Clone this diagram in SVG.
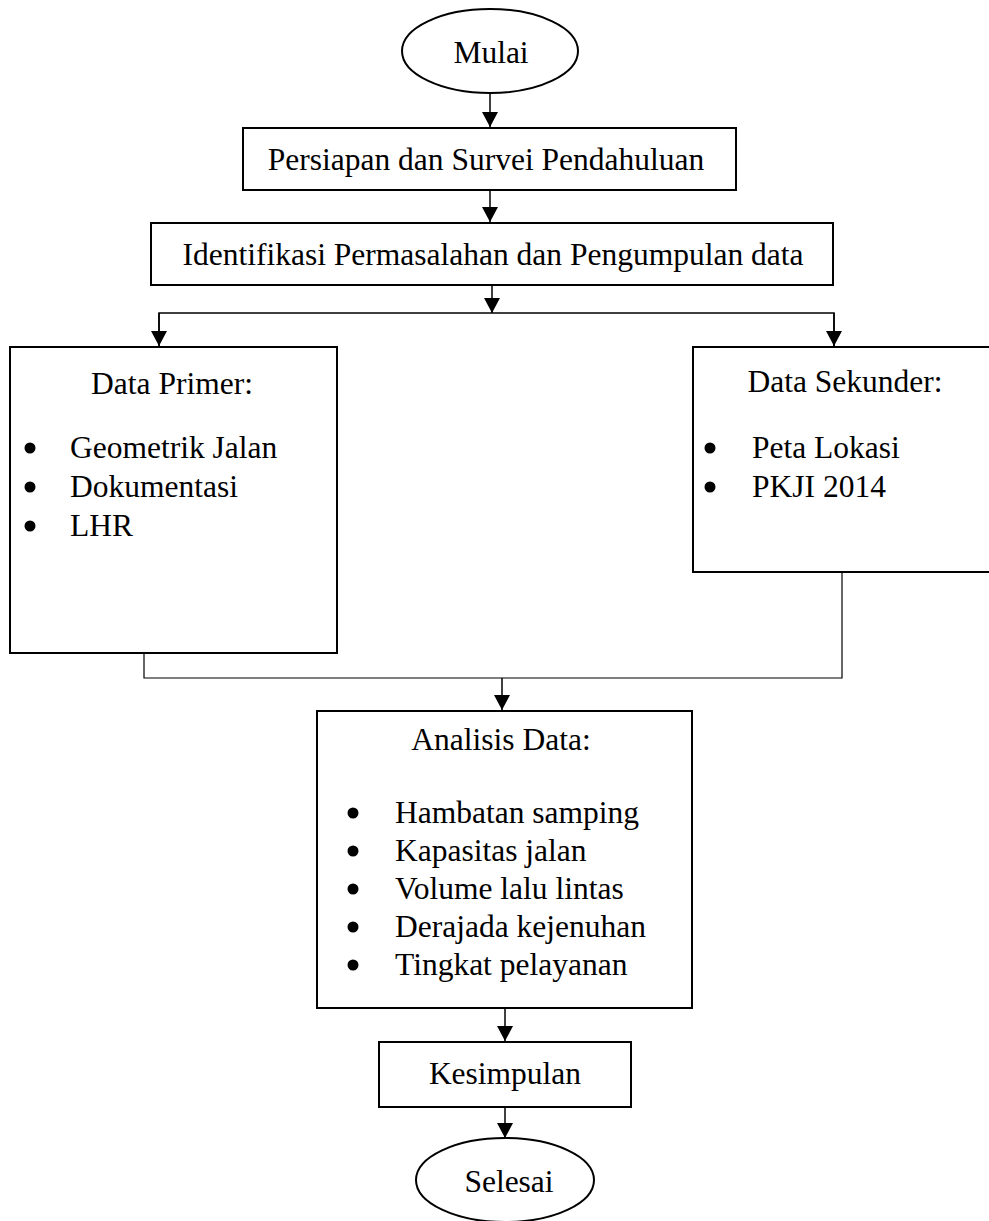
<svg xmlns="http://www.w3.org/2000/svg" width="989" height="1221" viewBox="0 0 989 1221">
<style>
  .box{fill:#fff;stroke:#000;stroke-width:2}
  .t{font-family:"Liberation Serif","Times New Roman",serif;font-size:31.5px;fill:#000}
  .c{text-anchor:middle}
  .dot{fill:#000;stroke:none}
  .ln{fill:none;stroke:#000;stroke-width:1.5}
  .thin{fill:none;stroke:#000;stroke-width:1.2}
</style>
<defs>
  <marker id="arr" markerUnits="userSpaceOnUse" markerWidth="16" markerHeight="16" refX="15" refY="8" orient="auto">
    <path d="M0,0 L15,8 L0,16 z" fill="#000"/>
  </marker>
</defs>
<rect width="989" height="1221" fill="#fff"/>

<g id="connectors">
  <line class="ln" x1="490" y1="93" x2="490" y2="127" marker-end="url(#arr)"/>
  <line class="ln" x1="490" y1="190" x2="490" y2="222" marker-end="url(#arr)"/>
  <line class="ln" x1="492" y1="285" x2="492" y2="313" marker-end="url(#arr)"/>
  <polyline class="ln" points="159,346 159,313 834,313 834,346"/>
  <line class="ln" x1="159" y1="313" x2="159" y2="346" marker-end="url(#arr)"/>
  <line class="ln" x1="834" y1="313" x2="834" y2="346" marker-end="url(#arr)"/>
  <polyline class="thin" points="144,653 144,678 842,678 842,572"/>
  <line class="ln" x1="502" y1="678" x2="502" y2="710" marker-end="url(#arr)"/>
  <line class="ln" x1="505" y1="1008" x2="505" y2="1041" marker-end="url(#arr)"/>
  <line class="ln" x1="505" y1="1107" x2="505" y2="1138" marker-end="url(#arr)"/>
</g>

<g id="mulai">
  <ellipse class="box" cx="490" cy="51" rx="88" ry="42" stroke-width="1.5"/>
  <text class="t c" x="491" y="63">Mulai</text>
</g>

<g id="persiapan">
  <rect class="box" x="243" y="128" width="493" height="62"/>
  <text class="t c" x="486" y="170">Persiapan dan Survei Pendahuluan</text>
</g>

<g id="identifikasi">
  <rect class="box" x="151" y="223" width="682" height="62"/>
  <text class="t c" x="493" y="265">Identifikasi Permasalahan dan Pengumpulan data</text>
</g>

<g id="data-primer">
  <rect class="box" x="10" y="347" width="327" height="306"/>
  <text class="t c" x="172" y="394">Data Primer:</text>
  <circle class="dot" cx="30" cy="448" r="5.5"/>
  <text class="t" x="70" y="458">Geometrik Jalan</text>
  <circle class="dot" cx="30" cy="487" r="5.5"/>
  <text class="t" x="70" y="497">Dokumentasi</text>
  <circle class="dot" cx="30" cy="526" r="5.5"/>
  <text class="t" x="70" y="536">LHR</text>
</g>

<g id="data-sekunder">
  <rect class="box" x="693" y="347" width="310" height="225"/>
  <text class="t c" x="845" y="392">Data Sekunder:</text>
  <circle class="dot" cx="710" cy="448" r="5.5"/>
  <text class="t" x="752" y="458">Peta Lokasi</text>
  <circle class="dot" cx="710" cy="487" r="5.5"/>
  <text class="t" x="752" y="497">PKJI 2014</text>
</g>

<g id="analisis">
  <rect class="box" x="317" y="711" width="375" height="297"/>
  <text class="t c" x="501" y="750">Analisis Data:</text>
  <circle class="dot" cx="353" cy="813" r="5.5"/>
  <text class="t" x="395" y="823">Hambatan samping</text>
  <circle class="dot" cx="353" cy="851" r="5.5"/>
  <text class="t" x="395" y="861">Kapasitas jalan</text>
  <circle class="dot" cx="353" cy="889" r="5.5"/>
  <text class="t" x="395" y="899">Volume lalu lintas</text>
  <circle class="dot" cx="353" cy="927" r="5.5"/>
  <text class="t" x="395" y="937">Derajada kejenuhan</text>
  <circle class="dot" cx="353" cy="965" r="5.5"/>
  <text class="t" x="395" y="975">Tingkat pelayanan</text>
</g>

<g id="kesimpulan">
  <rect class="box" x="379" y="1042" width="252" height="65"/>
  <text class="t c" x="505" y="1084">Kesimpulan</text>
</g>

<g id="selesai">
  <ellipse class="box" cx="505" cy="1180" rx="89" ry="42" stroke-width="1.5"/>
  <text class="t c" x="509" y="1192">Selesai</text>
</g>
</svg>
